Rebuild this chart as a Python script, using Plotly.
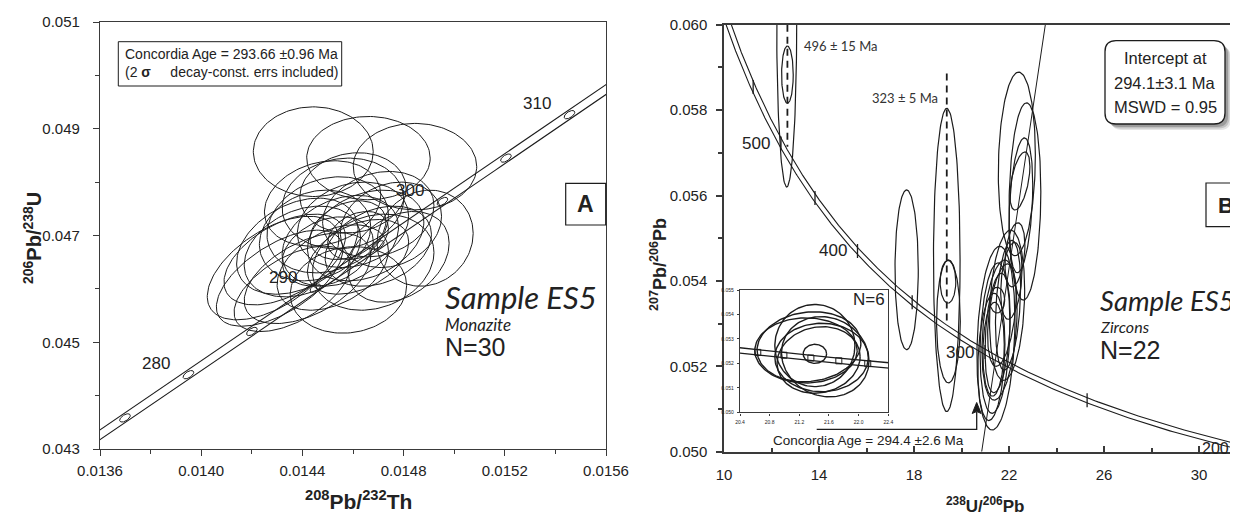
import numpy as np
import plotly.graph_objects as go

# the page body has an 8px margin, so the figure is laid out in screen pixels minus OFF
OFF = 8
W, H = 1238 - OFF, 516 - OFF

# decay constants (1/yr) and present-day 238U/235U
LAMBDA_238 = 1.55125e-10
LAMBDA_235 = 9.8485e-10
LAMBDA_232 = 4.9475e-11
U238_U235 = 137.88

# ---------------- Panel A : monazite (208Pb/232Th vs 206Pb/238U) ----------------
a_x_ticks = [0.0136, 0.0140, 0.0144, 0.0148, 0.0152, 0.0156]
a_x_minor = [0.0138, 0.0142, 0.0146, 0.0150, 0.0154]
a_y_ticks = [0.043, 0.045, 0.047, 0.049, 0.051]
a_y_minor = [0.044, 0.046, 0.048, 0.050]
a_ages_marked = [275, 280, 285, 290, 295, 300, 305, 310]
a_ages_labelled = [280, 290, 300, 310]
a_pbth = [0.014443, 0.014661, 0.014845, 0.014885, 0.014582, 0.014284, 0.014310, 0.014330,
          0.014360, 0.014400, 0.014450, 0.014500, 0.014550, 0.014600, 0.014650, 0.014700,
          0.014560, 0.014620, 0.014520, 0.014480, 0.014700, 0.014750, 0.014580, 0.014620,
          0.014420, 0.014380, 0.014680, 0.014780, 0.014500, 0.014600]
a_pbu = [0.04857, 0.04845, 0.04829, 0.04695, 0.04598, 0.04639, 0.04620, 0.04655,
         0.04600, 0.04670, 0.04700, 0.04720, 0.04690, 0.04720, 0.04700, 0.04740,
         0.04760, 0.04660, 0.04640, 0.04760, 0.04680, 0.04720, 0.04710, 0.04700,
         0.04620, 0.04680, 0.04650, 0.04660, 0.04670, 0.04780]
a_err_x = [0.000237, 0.000244, 0.000244, 0.000190, 0.000230, 0.000260, 0.000250, 0.000240,
           0.000230, 0.000230, 0.000220, 0.000240, 0.000230, 0.000220, 0.000230, 0.000220,
           0.000240, 0.000200, 0.000220, 0.000230, 0.000210, 0.000200, 0.000150, 0.000120,
           0.000250, 0.000240, 0.000240, 0.000200, 0.000180, 0.000210]
a_err_y = [0.00084, 0.00078, 0.00081, 0.00090, 0.00081, 0.00097, 0.00090, 0.00085,
           0.00080, 0.00085, 0.00085, 0.00090, 0.00085, 0.00080, 0.00085, 0.00080,
           0.00085, 0.00070, 0.00080, 0.00080, 0.00075, 0.00080, 0.00055, 0.00045,
           0.00085, 0.00090, 0.00090, 0.00085, 0.00065, 0.00075]
a_rho = [0.0, 0.0, 0.0, 0.1, 0.1, 0.55, 0.6, 0.5, 0.55, 0.3, 0.2, 0.2, 0.3, 0.2, 0.3, 0.2,
         0.1, 0.4, 0.4, 0.2, 0.3, 0.2, 0.3, 0.3, 0.5, 0.35, 0.2, 0.3, 0.3, 0.1]

# ---------------- Panel B : zircons (Tera-Wasserburg) ----------------
b_x_ticks = [10, 14, 18, 22, 26, 30]
b_x_minor = [12, 16, 20, 24, 28]
b_y_ticks = [0.050, 0.052, 0.054, 0.056, 0.058, 0.060]
b_y_minor = [0.051, 0.053, 0.055, 0.057, 0.059]
b_ages_marked = [200, 250, 300, 350, 400, 450, 500, 550]
b_ages_labelled = [300, 400, 500]
b_edge_label = "200"
b_u_pb = [12.64, 12.67, 17.69, 19.38, 19.45, 19.43,
          22.33, 22.67, 22.50, 22.46, 22.25,
          21.45, 21.41, 21.52, 21.92, 21.96, 21.50, 21.60, 21.26, 21.70, 22.10, 21.35]
b_pb_pb = [0.06000, 0.05883, 0.05426, 0.05449, 0.05305, 0.05398,
           0.05674, 0.05586, 0.05577, 0.05634, 0.05461,
           0.05266, 0.05266, 0.05278, 0.05343, 0.05343, 0.05355, 0.05285, 0.05222, 0.05320,
           0.05400, 0.05240]
b_err_x = [0.42, 0.245, 0.49, 0.56, 0.50, 0.33,
           0.78, 0.67, 0.50, 0.42, 0.42,
           0.80, 0.63, 0.53, 0.74, 0.53, 0.32, 0.74, 0.57, 0.60, 0.45, 0.45]
b_err_y = [0.00380, 0.00067, 0.00187, 0.00355, 0.00144, 0.00050,
           0.00215, 0.00231, 0.00158, 0.00068, 0.00075,
           0.00215, 0.00176, 0.00140, 0.00176, 0.00152, 0.00030, 0.00164, 0.00149, 0.00120,
           0.00090, 0.00110]
b_rho = [0.0, 0.0, 0.0, 0.0, 0.0, 0.0,
         0.1, 0.1, 0.3, 0.5, 0.3,
         0.2, 0.2, 0.3, 0.2, 0.3, 0.0, 0.3, 0.2, 0.4, 0.3, 0.1]
b_discordia_x = [20.85, 23.53]
b_discordia_y = [0.050, 0.060]
b_ref_x = [12.67, 19.38]
b_ref_top = [0.0600, 0.05886]
b_ref_bottom = [0.05714, 0.05300]
b_ref_labels = ["496 ± 15 Ma", "323 ± 5 Ma"]

# ---------------- Inset (N=6) ----------------
i_x_ticks = [20.4, 20.8, 21.2, 21.6, 22.0, 22.4]
i_y_ticks = [0.050, 0.051, 0.052, 0.053, 0.054, 0.055]
i_ages_marked = [285, 290, 295, 300, 305]
i_u_pb = [21.41, 21.33, 21.50, 21.55, 21.46, 21.29, 21.41]
i_pb_pb = [0.05273, 0.05268, 0.05224, 0.05227, 0.05214, 0.05253, 0.05239]
i_err_x = [0.54, 0.70, 0.63, 0.59, 0.56, 0.69, 0.158]
i_err_y = [0.00168, 0.00143, 0.00140, 0.00164, 0.00136, 0.00133, 0.00039]
i_rho = [0.0, 0.1, 0.0, -0.1, 0.1, 0.0, 0.0]

# ---------------- geometry (screen pixels -> paper fractions) ----------------
def px(x):
    return (x - OFF) / W

def py(y):
    return 1 - (y - OFF) / H

A_DOM_X = [px(100), px(606)]
A_DOM_Y = [py(449), py(22)]
B_DOM_X = [px(724), 1.0]
B_DOM_Y = [py(451.7), py(24.7)]
I_DOM_X = [px(740), px(888.3)]
I_DOM_Y = [py(412.3), py(290)]
A_RANGE_X = [0.0136, 0.0156]
A_RANGE_Y = [0.043, 0.051]
B_RANGE_X = [10, 10 + 514 / 23.75]
B_RANGE_Y = [0.050, 0.060]
I_RANGE_X = [20.4, 22.4]
I_RANGE_Y = [0.050, 0.055]

def scale(dom, rng, size):
    return (dom[1] - dom[0]) * size / (rng[1] - rng[0])

INK = "#1c1c1c"
AX = "#3a3a3a"
SANS = "Liberation Sans, Arial, sans-serif"
HUM = "Lato, Open Sans, sans-serif"


def ellipse(cx, cy, sx, sy, rho, n=140):
    t = np.linspace(0, 2 * np.pi, n)
    return cx + sx * np.cos(t), cy + sy * (rho * np.cos(t) + np.sqrt(1 - rho ** 2) * np.sin(t))


def ellipse_trace(xs, ys, sxs, sys, rhos, xa, ya, width=1.0, color=INK):
    X, Y = [], []
    for cx, cy, sx, sy, r in zip(xs, ys, sxs, sys, rhos):
        ex, ey = ellipse(cx, cy, sx, sy, r)
        X += list(ex) + [None]
        Y += list(ey) + [None]
    return go.Scatter(x=X, y=Y, mode="lines", line=dict(color=color, width=width),
                      xaxis=xa, yaxis=ya, hoverinfo="skip", showlegend=False)


def band(x, y, kx, ky, h):
    X, Y = x * kx, y * ky
    dX, dY = np.gradient(X), np.gradient(Y)
    L = np.hypot(dX, dY)
    nx, ny = -dY / L, dX / L
    return (x + nx * h / kx, y + ny * h / ky), (x - nx * h / kx, y - ny * h / ky)


def conc_a(t_ma):
    t = np.asarray(t_ma, dtype=float) * 1e6
    return np.expm1(LAMBDA_232 * t), np.expm1(LAMBDA_238 * t)


def conc_tw(t_ma):
    t = np.asarray(t_ma, dtype=float) * 1e6
    e8 = np.expm1(LAMBDA_238 * t)
    e5 = np.expm1(LAMBDA_235 * t)
    return 1 / e8, e5 / e8 / U238_U235


fig = go.Figure()

# ----- Panel A concordia band -----
kxa = scale(A_DOM_X, A_RANGE_X, W)
kya = scale(A_DOM_Y, A_RANGE_Y, H)
ta = np.arange(265, 322, 0.5)
cxa, cya = conc_a(ta)
(l1x, l1y), (l2x, l2y) = band(cxa, cya, kxa, kya, 4.0)
for lx, ly in [(l1x, l1y), (l2x, l2y)]:
    fig.add_trace(go.Scatter(x=lx, y=ly, mode="lines", line=dict(color=INK, width=1.1),
                             xaxis="x", yaxis="y", hoverinfo="skip", showlegend=False))
mxa, mya = conc_a(a_ages_marked)
fig.add_trace(ellipse_trace(mxa, mya, [2.1e-5] * len(mxa), [7.8e-5] * len(mxa),
                            [0.57] * len(mxa), "x", "y", width=1.0))
fig.add_trace(ellipse_trace(a_pbth, a_pbu, a_err_x, a_err_y, a_rho, "x", "y", width=1.0))

# ----- Panel B -----
kxb = scale(B_DOM_X, B_RANGE_X, W)
kyb = scale(B_DOM_Y, B_RANGE_Y, H)
tb = np.arange(150, 800, 1.0)
cxb, cyb = conc_tw(tb)
(l1x, l1y), (l2x, l2y) = band(cxb, cyb, kxb, kyb, 2.4)
for lx, ly in [(l1x, l1y), (l2x, l2y)]:
    fig.add_trace(go.Scatter(x=lx, y=ly, mode="lines", line=dict(color=INK, width=1.1),
                             xaxis="x2", yaxis="y2", hoverinfo="skip", showlegend=False))
mxb, myb = conc_tw(b_ages_marked)
fig.add_trace(go.Scatter(x=mxb, y=myb, mode="markers",
                         marker=dict(symbol="line-ns", size=10, line=dict(color=INK, width=1.3)),
                         xaxis="x2", yaxis="y2", hoverinfo="skip", showlegend=False))
fig.add_trace(go.Scatter(x=b_discordia_x, y=b_discordia_y, mode="lines",
                         line=dict(color=INK, width=1.0), xaxis="x2", yaxis="y2",
                         hoverinfo="skip", showlegend=False))
fig.add_trace(ellipse_trace(b_u_pb, b_pb_pb, b_err_x, b_err_y, b_rho, "x2", "y2", width=1.2))
for rx, rt, rb in zip(b_ref_x, b_ref_top, b_ref_bottom):
    fig.add_trace(go.Scatter(x=[rx, rx], y=[rt, rb], mode="lines",
                             line=dict(color=INK, width=1.8, dash="7px,5px"),
                             xaxis="x2", yaxis="y2", hoverinfo="skip", showlegend=False))

# ----- Inset -----
kxi = scale(I_DOM_X, I_RANGE_X, W)
kyi = scale(I_DOM_Y, I_RANGE_Y, H)
ti = np.arange(270, 320, 0.5)
cxi, cyi = conc_tw(ti)
(l1x, l1y), (l2x, l2y) = band(cxi, cyi, kxi, kyi, 2.6)
for lx, ly in [(l1x, l1y), (l2x, l2y)]:
    fig.add_trace(go.Scatter(x=lx, y=ly, mode="lines", line=dict(color=INK, width=1.3),
                             xaxis="x3", yaxis="y3", hoverinfo="skip", showlegend=False))
mxi, myi = conc_tw(i_ages_marked)
fig.add_trace(go.Scatter(x=mxi, y=myi, mode="markers",
                         marker=dict(symbol="square-open", size=6, color=INK, line=dict(width=1)),
                         xaxis="x3", yaxis="y3", hoverinfo="skip", showlegend=False))
fig.add_trace(ellipse_trace(i_u_pb, i_pb_pb, i_err_x, i_err_y, i_rho, "x3", "y3", width=1.4))

# ----- axes -----
def axis(dom, rng, ticks, minor, fmt, anchor, tickdir, size=15, mirror=True, ticklen=6,
         minorlen=4, standoff=None, lw=1.3):
    d = dict(domain=dom, range=rng, anchor=anchor, tickmode="array", tickvals=ticks,
             ticktext=[fmt.format(v) for v in ticks], ticks=tickdir, ticklen=ticklen,
             tickwidth=lw, tickcolor=AX, showline=True, linecolor=AX, linewidth=lw,
             mirror=mirror, showgrid=False, zeroline=False, automargin=False,
             tickfont=dict(family=SANS, size=size, color="#222"), fixedrange=True)
    if minor is not None:
        d["minor"] = dict(tickmode="array", tickvals=minor, ticks=tickdir, ticklen=minorlen,
                          tickwidth=lw, tickcolor=AX, showgrid=False)
    if standoff is not None:
        d["ticklabelstandoff"] = standoff
    return d

fig.update_layout(
    xaxis=axis(A_DOM_X, A_RANGE_X, a_x_ticks, a_x_minor, "{:.4f}", "y", "outside", standoff=2),
    yaxis=axis(A_DOM_Y, A_RANGE_Y, a_y_ticks, a_y_minor, "{:.3f}", "x", "outside", standoff=10),
    xaxis2=axis(B_DOM_X, B_RANGE_X, b_x_ticks, b_x_minor, "{:d}", "y2", "inside", standoff=9,
                lw=1.5),
    yaxis2=axis(B_DOM_Y, B_RANGE_Y, b_y_ticks, b_y_minor, "{:.3f}", "x2", "outside",
                mirror=False, standoff=6, lw=1.5),
    xaxis3=axis(I_DOM_X, I_RANGE_X, i_x_ticks, None, "{:.1f}", "y3", "outside", size=5,
                ticklen=2, standoff=2, lw=1.4),
    yaxis3=axis(I_DOM_Y, I_RANGE_Y, i_y_ticks, None, "{:.3f}", "x3", "outside", size=5,
                ticklen=2, standoff=2, lw=1.4),
)

# ----- annotations -----
ann = []

def text(x, y, s, size, family=SANS, xanchor="center", yanchor="middle", angle=0,
         color="#222", align="center"):
    ann.append(dict(x=px(x), y=py(y), xref="paper", yref="paper", text=s, showarrow=False,
                    xanchor=xanchor, yanchor=yanchor, textangle=angle, align=align,
                    font=dict(family=family, size=size, color=color)))

# axis titles
text(32, 238, "<b><sup>206</sup>Pb/<sup>238</sup>U</b>", 20, angle=-90)
text(358, 500, "<b><sup>208</sup>Pb/<sup>232</sup>Th</b>", 21)
text(658, 265, "<b><sup>207</sup>Pb/<sup>206</sup>Pb</b>", 18, angle=-90)
text(985, 505, "<b><sup>238</sup>U/<sup>206</sup>Pb</b>", 17)

# concordia age labels
for age, (x, y) in zip(a_ages_labelled, zip(*conc_a(a_ages_labelled))):
    ann.append(dict(x=x, y=y, xref="x", yref="y", text=str(age), showarrow=False,
                    xshift=-32, yshift=11, font=dict(family=SANS, size=17, color="#222")))
for age, (x, y) in zip(b_ages_labelled, zip(*conc_tw(b_ages_labelled))):
    ann.append(dict(x=x, y=y, xref="x2", yref="y2", text=str(age), showarrow=False,
                    xshift=-25, yshift=0, font=dict(family=SANS, size=17, color="#222")))
# the 200 Ma point lies just past the right edge of the axis; its label sits inside
text(1215, 448.5, b_edge_label, 16)

# panel A texts
text(123, 63, "Concordia Age = 293.66 ±0.96 Ma<br>(2\u00a0<b>σ</b>\u00a0\u00a0\u00a0\u00a0\u00a0decay-const. errs included)",
     14, xanchor="left", align="left")
text(443, 297, "<i>Sample ES5</i>", 31, family=HUM, xanchor="left")
text(443, 324, "<i>Monazite</i>", 17, family=HUM, xanchor="left")
text(443, 347, "N=30", 25, xanchor="left")
text(585.7, 204, "<b>A</b>", 23)

# panel B texts
text(801.7, 46, b_ref_labels[0], 13, family=HUM, xanchor="left", color="#333")
text(940, 97.7, b_ref_labels[1], 13, family=HUM, xanchor="right", color="#333")
text(1165, 58.3, "Intercept at", 16.5)
text(1165, 83.3, "294.1±3.1 Ma", 16.5)
text(1165, 106.7, "MSWD = 0.95", 16.5)
text(1226, 205, "<b>B</b>", 22)
text(1098, 300, "<i>Sample ES5</i>", 27.5, family=HUM, xanchor="left")
text(1098, 326.5, "<i>Zircons</i>", 16, family=HUM, xanchor="left")
text(1098, 350, "N=22", 25, xanchor="left")
text(869, 299, "N=6", 17)
text(868, 440.7, "Concordia Age = 294.4 ±2.6 Ma", 13.5)

# ----- shapes -----
shapes = []

def rect(x0, y0, x1, y1, lw=1.2):
    shapes.append(dict(type="rect", xref="paper", yref="paper", x0=px(x0), y0=py(y1),
                       x1=px(x1), y1=py(y0), line=dict(color=INK, width=lw),
                       fillcolor="white", layer="above"))

def path(points, closed=True):
    out = []
    for p in points:
        cmd, vals = p[0], p[1:]
        coords = [f"{px(vals[i]):.5f},{py(vals[i + 1]):.5f}" for i in range(0, len(vals), 2)]
        out.append(cmd + " ".join(coords))
    return " ".join(out) + (" Z" if closed else "")

def rounded(x0, y0, x1, y1, r):
    return path([("M", x0 + r, y0), ("L", x1 - r, y0), ("Q", x1, y0, x1, y0 + r),
                 ("L", x1, y1 - r), ("Q", x1, y1, x1 - r, y1), ("L", x0 + r, y1),
                 ("Q", x0, y1, x0, y1 - r), ("L", x0, y0 + r), ("Q", x0, y0, x0 + r, y0)])

rect(118.3, 41.7, 341.7, 86, lw=1.0)
rect(565.7, 183.3, 605.7, 225)
rect(1206, 183, 1248, 226.7)
for off, op in [(6, 0.10), (4.5, 0.15), (3, 0.2)]:
    shapes.append(dict(type="path", xref="paper", yref="paper",
                       path=rounded(1105 + off, 40.7 + off, 1225 + off, 124 + off, 11),
                       fillcolor=f"rgba(0,0,0,{op})", line=dict(width=0), layer="above"))
shapes.append(dict(type="path", xref="paper", yref="paper",
                   path=rounded(1105, 40.7, 1225, 124, 11), fillcolor="white",
                   line=dict(color=INK, width=1.3), layer="above"))
# bent arrow to the concordia age of the inset
shapes.append(dict(type="path", xref="paper", yref="paper",
                   path=path([("M", 816.7, 429.3), ("L", 976.7, 429.3), ("L", 976.7, 412)],
                             closed=False),
                   line=dict(color=INK, width=1.3)))
shapes.append(dict(type="path", xref="paper", yref="paper",
                   path=path([("M", 976.7, 402.5), ("L", 981.2, 413.5), ("L", 976.7, 411.5),
                              ("L", 972.2, 413.5)]),
                   fillcolor=INK, line=dict(color=INK, width=1)))

fig.update_layout(
    width=W, height=H, margin=dict(l=0, r=0, t=0, b=0, pad=0),
    paper_bgcolor="white", plot_bgcolor="white", showlegend=False,
    annotations=ann, shapes=shapes,
)

fig.write_html("out.html")
